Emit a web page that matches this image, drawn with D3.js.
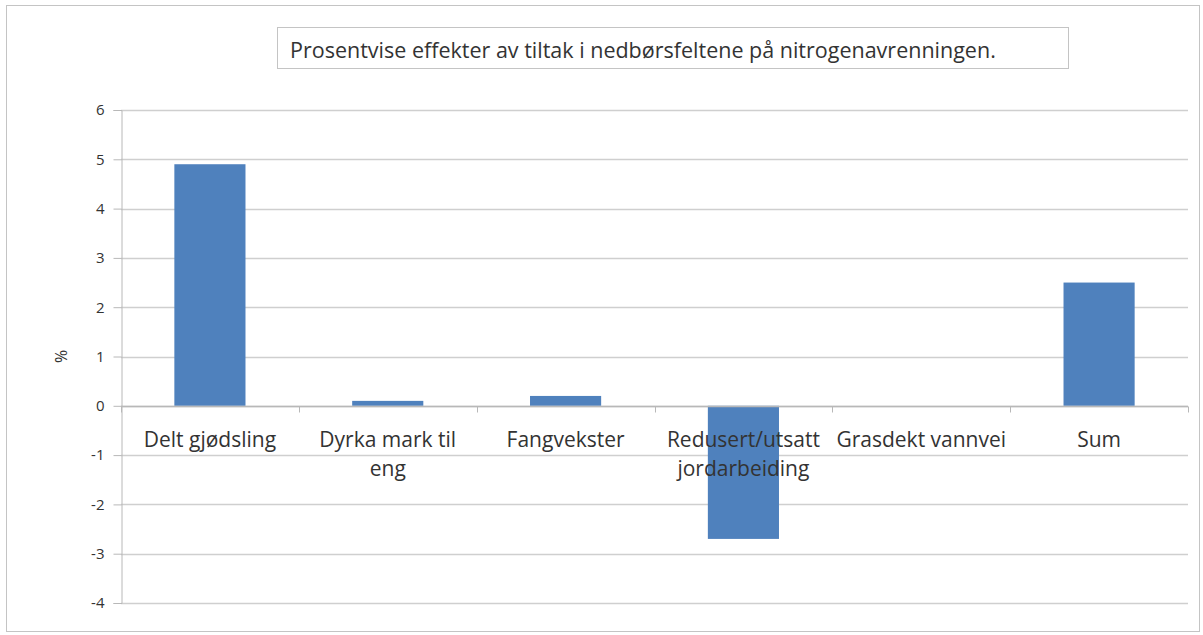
<!DOCTYPE html>
<html>
<head>
<meta charset="utf-8">
<script src="https://cdn.jsdelivr.net/npm/d3@7"></script>
<style>
  body { margin: 0; background: #fff; }
  text { font-family: "Open Sans", sans-serif; fill: #333; }
</style>
</head>
<body>
<svg id="chart"></svg>
<script>
// data
var categories = ["Delt gjødsling", "Dyrka mark til\neng", "Fangvekster", "Redusert/utsatt\njordarbeiding", "Grasdekt vannvei", "Sum"];
var values = [4.9, 0.1, 0.2, -2.7, 0, 2.5];
var yTicks = [6, 5, 4, 3, 2, 1, 0, -1, -2, -3, -4];
var title = "Prosentvise effekter av tiltak i nedbørsfeltene på nitrogenavrenningen.";
var yLabel = "%";

var w = 1203;
var h = 635;
var plotLeft = 121, plotRight = 1188, plotTop = 110, plotBottom = 603;

var svg = d3.select("#chart")
    .attr("width", w)
    .attr("height", h);

// outer frame
svg.append("rect")
    .attr("x", 6.5).attr("y", 5.5)
    .attr("width", 1193).attr("height", 626)
    .attr("fill", "#fff")
    .attr("stroke", "#c4c4c4");

var x = d3.scaleBand()
    .domain(d3.range(categories.length))
    .range([plotLeft, plotRight])
    .paddingInner(0.6)
    .paddingOuter(0.3);

var xEdge = d3.scaleLinear()
    .domain([0, categories.length])
    .range([plotLeft, plotRight]);

var y = d3.scaleLinear()
    .domain([-4, 6])
    .range([plotBottom, plotTop]);

// gridlines
svg.append("g")
    .selectAll("line")
    .data(yTicks)
    .enter()
    .append("line")
    .attr("x1", plotLeft).attr("x2", plotRight)
    .attr("y1", function(d) { return Math.round(y(d)) + 0.5; })
    .attr("y2", function(d) { return Math.round(y(d)) + 0.5; })
    .attr("stroke", "#cfcfcf")
    .attr("stroke-width", 1.5);

// y axis
var yAxis = d3.axisLeft(y)
    .tickValues(yTicks)
    .tickSize(8)
    .tickPadding(9)
    .tickFormat(function(d) { return String(d); });

var gy = svg.append("g")
    .attr("transform", "translate(" + (plotLeft + 0.5) + ",0)")
    .call(yAxis);
gy.select(".domain").attr("stroke", "#b8b8b8");
gy.selectAll(".tick line").attr("stroke", "#b8b8b8");
gy.selectAll(".tick text")
    .attr("font-size", 15)
    .style("font-family", "'Open Sans', sans-serif")
    .attr("fill", "#404040");

// bars
svg.selectAll("rect.bar")
    .data(values)
    .enter()
    .append("rect")
    .attr("class", "bar")
    .attr("x", function(d, i) { return x(i); })
    .attr("width", x.bandwidth())
    .attr("y", function(d) { return y(Math.max(0, d)); })
    .attr("height", function(d) { return Math.abs(y(d) - y(0)); })
    .attr("fill", "#4f81bd");

// zero axis with category ticks
var y0 = Math.round(y(0)) + 0.5;
svg.append("line")
    .attr("x1", plotLeft).attr("x2", plotRight)
    .attr("y1", y0).attr("y2", y0)
    .attr("stroke", "#b8b8b8")
    .attr("stroke-width", 1.5);

svg.append("g")
    .selectAll("line")
    .data(d3.range(categories.length + 1))
    .enter()
    .append("line")
    .attr("x1", function(d) { return Math.round(xEdge(d)) + 0.5; })
    .attr("x2", function(d) { return Math.round(xEdge(d)) + 0.5; })
    .attr("y1", y0).attr("y2", y0 + 6)
    .attr("stroke", "#b8b8b8");

// category labels
var labels = svg.append("g")
    .selectAll("text")
    .data(categories)
    .enter()
    .append("text")
    .attr("text-anchor", "middle")
    .attr("font-size", 21)
    .attr("fill", "#333")
    .attr("transform", function(d, i) {
        return "translate(" + (x(i) + x.bandwidth() / 2) + "," + (y0 + 40) + ")";
    });

labels.selectAll("tspan")
    .data(function(d) { return d.split("\n"); })
    .enter()
    .append("tspan")
    .attr("x", 0)
    .attr("dy", function(d, i) { return i === 0 ? 0 : 29; })
    .text(function(d) { return d; });

// y label
svg.append("text")
    .attr("transform", "translate(67," + y(1) + ") rotate(-90)")
    .attr("text-anchor", "middle")
    .attr("font-size", 16)
    .attr("fill", "#404040")
    .text(yLabel);

// title box
svg.append("rect")
    .attr("x", 277.5).attr("y", 27.5)
    .attr("width", 791).attr("height", 41)
    .attr("fill", "#fff")
    .attr("stroke", "#c4c4c4");

svg.append("text")
    .attr("x", 290)
    .attr("y", 58)
    .attr("font-size", 21.5)
    .attr("fill", "#333")
    .text(title);
</script>
</body>
</html>
